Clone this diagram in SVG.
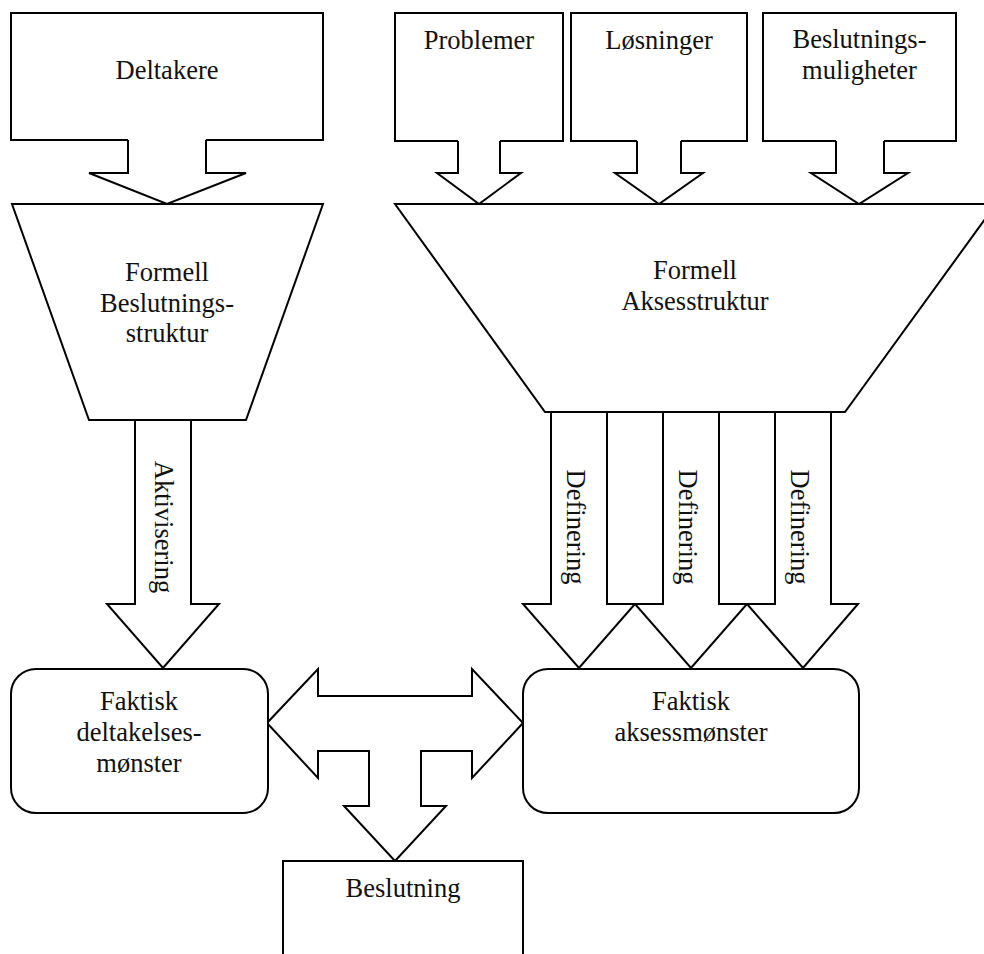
<svg xmlns="http://www.w3.org/2000/svg" width="984" height="954" viewBox="0 0 984 954">
<style>
.s{fill:#fff;stroke:#000;stroke-width:2;stroke-linejoin:miter}
.f{fill:#fff;stroke:none}
.o{fill:none;stroke:#000;stroke-width:2}
text{font-family:"Liberation Serif","Times New Roman",serif;font-size:26.5px;fill:#111;text-anchor:middle}
</style>
<rect width="984" height="954" fill="#fff"/>
<g id="connectors">
  <g id="arr-deltakere">
    <polygon class="f" points="128,138 128,173 89,173 167,204 246,173 206,173 206,138"/>
    <path class="o" d="M128,140 V173 H89 L167,204 L246,173 H206 V140"/>
  </g>
  <g id="arr-problemer">
    <polygon class="f" points="458,138 458,173 437,173 479,204 521,173 500,173 500,138"/>
    <path class="o" d="M458,141 V173 H437 L479,204 L521,173 H500 V141"/>
  </g>
  <g id="arr-losninger">
    <polygon class="f" points="637,138 637,173 615,173 659,204 703,173 681,173 681,138"/>
    <path class="o" d="M637,141 V173 H615 L659,204 L703,173 H681 V141"/>
  </g>
  <g id="arr-muligheter">
    <polygon class="f" points="836,138 836,173 811,173 859,204 908,173 884,173 884,138"/>
    <path class="o" d="M836,141 V173 H811 L859,204 L908,173 H884 V141"/>
  </g>
  <g id="arr-aktivisering">
    <polygon class="s" points="135,420 135,604 107,604 163,668 219,604 191,604 191,420"/>
    <text transform="translate(155,527) rotate(90)">Aktivisering</text>
  </g>
  <g id="arr-definering">
    <polygon class="s" points="551,412 551,604 523,604 579,668 635,604 607,604 607,412"/>
    <polygon class="s" points="663,412 663,604 635,604 691,668 747,604 719,604 719,412"/>
    <polygon class="s" points="775,412 775,604 747,604 803,668 858,604 831,604 831,412"/>
    <text transform="translate(567,527) rotate(90)">Definering</text>
    <text transform="translate(679,527) rotate(90)">Definering</text>
    <text transform="translate(791,527) rotate(90)">Definering</text>
  </g>
  <g id="arr-interaction">
    <polygon class="s" points="267,723 318,669 318,696 472,696 472,669 523,723 472,778 472,751 421,751 421,806 446,806 395,861 344,806 369,806 369,751 318,751 318,778"/>
  </g>
</g>
<g id="deltakere">
  <path class="o" d="M128,140 H11 V13 H323 V140 H206"/>
  <text x="167" y="79">Deltakere</text>
</g>
<g id="problemer">
  <path class="o" d="M458,141 H395 V13 H563 V141 H500"/>
  <text x="479" y="49">Problemer</text>
</g>
<g id="losninger">
  <path class="o" d="M637,141 H571 V13 H747 V141 H681"/>
  <text x="659" y="49">Løsninger</text>
</g>
<g id="muligheter">
  <path class="o" d="M836,141 H763 V13 H956 V141 H884"/>
  <text x="859.5" y="48">Beslutnings-</text>
  <text x="859.5" y="79">muligheter</text>
</g>
<g id="formell-beslutning">
  <polygon class="s" points="12,204 323,204 246,420 89,420"/>
  <text x="167" y="281">Formell</text>
  <text x="167" y="312">Beslutnings-</text>
  <text x="167" y="342">struktur</text>
</g>
<g id="formell-aksess">
  <polygon class="s" points="395,204 996,204 845,412 545,412"/>
  <text x="695" y="279">Formell</text>
  <text x="695" y="310">Aksesstruktur</text>
</g>
<g id="faktisk-deltakelse">
  <rect class="s" x="11" y="669" width="257" height="144" rx="25" ry="25"/>
  <text x="139" y="710">Faktisk</text>
  <text x="139" y="741">deltakelses-</text>
  <text x="139" y="772">mønster</text>
</g>
<g id="faktisk-aksess">
  <rect class="s" x="523" y="669" width="336" height="144" rx="25" ry="25"/>
  <text x="691" y="710">Faktisk</text>
  <text x="691" y="741">aksessmønster</text>
</g>
<g id="beslutning">
  <rect class="s" x="283" y="861" width="240" height="110"/>
  <text x="403" y="897">Beslutning</text>
</g>
</svg>
